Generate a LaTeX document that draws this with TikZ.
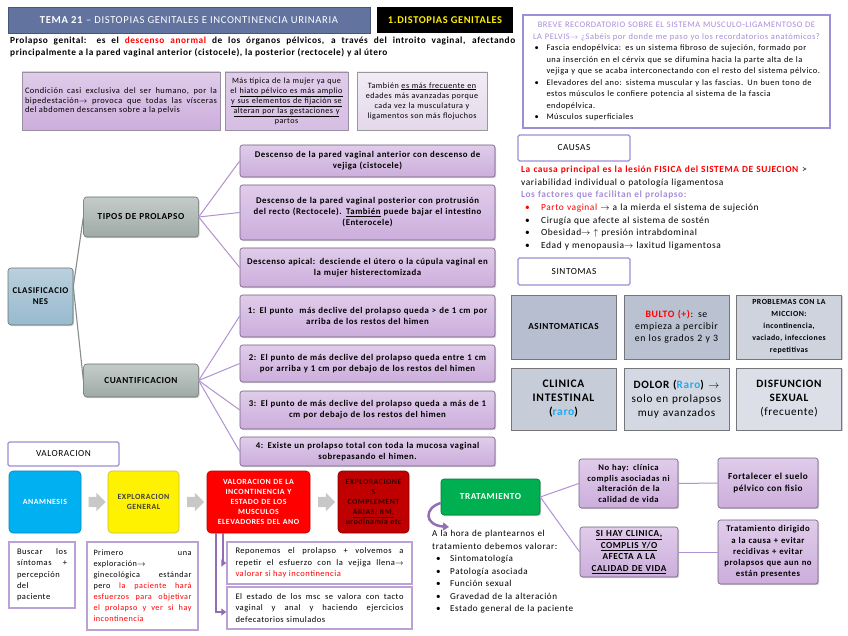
\documentclass[tikz,border=0pt]{standalone}
\usepackage{fontspec}
\setmainfont{Carlito}[LetterSpace=6]
\usetikzlibrary{shadows,shapes.arrows,arrows.meta,calc}
\definecolor{titleblue}{RGB}{98,115,160}
\definecolor{titleedge}{RGB}{70,85,120}
\definecolor{lavedge}{RGB}{158,142,212}
\definecolor{lavtext}{RGB}{168,140,218}
\definecolor{pbtop}{RGB}{224,204,234}
\definecolor{pbbot}{RGB}{204,174,220}
\definecolor{pbedge}{RGB}{112,96,124}
\definecolor{plight}{RGB}{242,236,245}
\definecolor{plightb}{RGB}{228,216,234}
\definecolor{conpurple}{RGB}{178,145,212}
\definecolor{clastop}{RGB}{186,208,222}
\definecolor{clasbot}{RGB}{152,186,206}
\definecolor{gtop}{RGB}{196,204,201}
\definecolor{gbot}{RGB}{158,170,166}
\definecolor{gedge}{RGB}{105,112,110}
\definecolor{symedge}{RGB}{118,118,122}
\definecolor{rarocol}{RGB}{30,172,240}
\definecolor{anacyan}{RGB}{0,176,240}
\definecolor{tratgreen}{RGB}{0,176,80}
\definecolor{darkred}{RGB}{192,0,0}
\definecolor{arrowpurple}{RGB}{146,110,182}
\definecolor{detedge}{RGB}{186,162,214}
\definecolor{greyarrow}{RGB}{200,200,200}
\definecolor{sa}{RGB}{182,190,208}
\definecolor{sb}{RGB}{186,194,210}
\definecolor{sc}{RGB}{206,211,222}
\definecolor{sd}{RGB}{198,204,216}
\definecolor{se}{RGB}{212,216,226}
\definecolor{sf}{RGB}{220,223,231}
\newcommand\mybul[1]{\par\noindent\hangindent=19pt\hangafter=1\makebox[19pt][l]{\hspace{7pt}\textbullet}#1}
\tikzset{
 shad/.style={drop shadow={shadow xshift=1.2pt,shadow yshift=-1.2pt,opacity=0.35}},
 purpbox/.style={shad, draw=pbedge, line width=0.6pt, rounded corners=2.5pt, top color=pbtop, bottom color=pbbot, align=center, inner sep=1.5pt, font=\bfseries\fontsize{8.8}{11}\selectfont},
 greybox/.style={shad, draw=gedge, line width=0.6pt, rounded corners=3pt, top color=gtop, bottom color=gbot, align=center, font=\bfseries\fontsize{9.2}{11}\selectfont},
 labelbox/.style={draw=lavedge, line width=1.3pt, rounded corners=1.5pt, fill=white, align=center, font=\fontsize{9.3}{11}\selectfont},
 symbox/.style={shad, draw=symedge, line width=0.7pt, align=center, inner sep=2pt, minimum width=105pt, text width=100pt},
 stepbox/.style={rounded corners=4pt, line width=0.6pt, align=center, inner sep=1pt, minimum height=62pt, font=\bfseries\fontsize{7.9}{10}\selectfont},
 detbox/.style={draw=detedge, line width=1.4pt, fill=white, align=justify, inner sep=0pt, font=\fontsize{8.5}{11.3}\selectfont},
 pline/.style={draw=conpurple, line width=1pt},
 gline/.style={draw=gedge!80, line width=1.1pt},
 grayarr/.style={single arrow, fill=greyarrow, draw=none, minimum height=17pt, minimum width=18pt, single arrow head extend=4pt, inner sep=5pt},
 elbow/.style={draw=arrowpurple, line width=2.2pt, -{Triangle[length=5pt,width=7pt]}},
}
\begin{document}
\begin{tikzpicture}[x=1pt,y=-1pt]
\useasboundingbox (0,0) rectangle (848,636);
\fill[white] (0,0) rectangle (848,636);

% header
\node[draw=titleedge, line width=0.6pt, fill=titleblue, minimum width=362pt, minimum height=26pt, text=white, font=\fontsize{10.6}{12}\selectfont] (title) at (189,20) {\textbf{TEMA 21} – DISTOPIAS GENITALES E INCONTINENCIA URINARIA};
\node[fill=black, minimum width=136pt, minimum height=26pt, text=yellow, font=\bfseries\fontsize{10.4}{12}\selectfont] (section) at (445,20) {1.DISTOPIAS GENITALES};
\node[anchor=north west, text width=505pt, align=justify, inner sep=0pt, font=\bfseries\fontsize{9.3}{11.3}\selectfont] (intro) at (10,37) {Prolapso genital: es el \textcolor{red}{descenso anormal} de los órganos pélvicos, a través del introito vaginal, afectando\linebreak principalmente a la pared vaginal anterior (cistocele), la posterior (rectocele) y al útero};

% three boxes
\node[shad, draw=pbedge!70, line width=0.5pt, top color=pbtop, bottom color=pbbot, minimum width=198pt, minimum height=58pt, text width=192pt, inner sep=0pt, align=justify, font=\fontsize{8.4}{9.4}\selectfont] (condicion) at (121,101) {Condición casi exclusiva del ser humano, por la\linebreak bipedestación$\rightarrow$ provoca que todas las vísceras\linebreak del abdomen descansen sobre a la pelvis};
\node[shad, draw=pbedge!70, line width=0.5pt, top color=pbtop, bottom color=pbbot!80!white, minimum width=123pt, minimum height=58pt, text width=120pt, inner sep=0pt, align=center, font=\fontsize{8.1}{10}\selectfont] (mujer) at (286.5,101) {Más típica de la mujer ya que\\ el \underline{hiato pélvico es más amplio}\\ \underline{y sus elementos de fijación se}\\ \underline{alteran por las gestaciones y}\\ partos};
\node[shad, draw=gray!80, line width=0.5pt, top color=plight, bottom color=plightb, minimum width=130pt, minimum height=58pt, text width=126pt, inner sep=0pt, align=center, font=\fontsize{8.1}{10}\selectfont] (edad) at (422,101) {También \underline{es más frecuente en}\\ edades más avanzadas porque\\ cada vez la musculatura y\\ ligamentos son más flojuchos};

% recordatorio
\node[draw=lavedge, line width=1.5pt, fill=white, minimum width=307pt, minimum height=113pt, text width=298pt, inner sep=0pt, font=\fontsize{8.4}{11.5}\selectfont] (recordatorio) at (676.5,71.5) {{\centering\color{lavtext}\fontsize{8.5}{11.5}\selectfont BREVE RECORDATORIO SOBRE EL SISTEMA MUSCULO-LIGAMENTOSO DE\\ LA PELVIS$\rightarrow$ ¿Sabéis por donde me paso yo los recordatorios anatómicos?\par}%
\mybul{Fascia endopélvica: es un sistema fibroso de sujeción, formado por\linebreak una inserción en el cérvix que se difumina hacia la parte alta de la\linebreak vejiga y que se acaba interconectando con el resto del sistema pélvico.}
\mybul{Elevadores del ano: sistema muscular y las fascias. Un buen tono de\linebreak estos músculos le confiere potencia al sistema de la fascia\linebreak endopélvica.}
\mybul{Músculos superficiales}\par};

% causas
\node[labelbox, minimum width=112pt, minimum height=26pt] (causas) at (574,148) {CAUSAS};
\node[anchor=north west, text width=325pt, align=left, inner sep=0pt, font=\fontsize{9.4}{12.6}\selectfont] (causastext) at (521,166) {\textcolor{red}{\textbf{La causa principal es la lesión FISICA del SISTEMA DE SUJECION}} >\\
variabilidad individual o patología ligamentosa\\
\textcolor{lavtext}{\textbf{Los factores que facilitan el prolapso:}}\\
\makebox[20pt][l]{\hspace{4pt}\textcolor{red}{\textbullet}}\textcolor{red}{Parto vaginal} $\rightarrow$ a la mierda el sistema de sujeción\\
\makebox[20pt][l]{\hspace{4pt}\textbullet}Cirugía que afecte al sistema de sostén\\
\makebox[20pt][l]{\hspace{4pt}\textbullet}Obesidad$\rightarrow$ $\uparrow$ presión intrabdominal\\
\makebox[20pt][l]{\hspace{4pt}\textbullet}Edad y menopausia$\rightarrow$ laxitud ligamentosa};

% sintomas
\node[labelbox, minimum width=112pt, minimum height=27pt] (sintomas) at (574,271.5) {SINTOMAS};
\node[symbox, fill=sa, minimum height=64pt, font=\bfseries\fontsize{9.2}{11}\selectfont] (asint) at (563.5,327) {ASINTOMATICAS};
\node[symbox, fill=sb, minimum height=64pt, font=\fontsize{9.8}{12}\selectfont] (bulto) at (676.5,327) {\textcolor{red}{\textbf{BULTO (+)}}: se\\ empieza a percibir\\ en los grados 2 y 3};
\node[symbox, fill=sc, minimum height=64pt, font=\bfseries\fontsize{7.8}{12}\selectfont] (miccion) at (789,327) {PROBLEMAS CON LA\\ MICCION:\\ incontinencia,\\ vaciado, infecciones\\ repetitivas};
\node[symbox, fill=sd, minimum height=62pt, font=\bfseries\fontsize{11.5}{14}\selectfont] (intestinal) at (563.5,399) {CLINICA\\ INTESTINAL\\ (\textcolor{rarocol}{raro})};
\node[symbox, fill=se, minimum height=62pt, font=\fontsize{11.2}{14}\selectfont] (dolor) at (676.5,399) {\textbf{DOLOR (\textcolor{rarocol}{Raro})} $\rightarrow$\\ solo en prolapsos\\ muy avanzados};
\node[symbox, fill=sf, minimum height=62pt, font=\fontsize{11.2}{14}\selectfont] (sexual) at (789,399) {\bfseries DISFUNCION\\ SEXUAL\\ \mdseries (frecuente)};

% clasificaciones
\node[shad, draw=gedge, line width=0.6pt, rounded corners=3pt, top color=clastop, bottom color=clasbot, minimum width=65pt, minimum height=57pt, text width=62pt, inner sep=0pt, align=center, font=\bfseries\fontsize{8.9}{11}\selectfont] (clas) at (40.5,296.5) {CLASIFICACIO\\NES};
\node[greybox, minimum width=112pt, minimum height=40pt, text width=108pt] (tipos) at (141,217) {TIPOS DE PROLAPSO};
\node[greybox, minimum width=112pt, minimum height=33pt, text width=108pt] (cuant) at (141,380.5) {CUANTIFICACION};

\node[purpbox, minimum width=255pt, minimum height=32pt, text width=252pt] (t1) at (367.5,161) {Descenso de la pared vaginal anterior con descenso de\\ vejiga (cistocele)};
\node[purpbox, minimum width=255pt, minimum height=55pt, text width=252pt] (t2) at (367.5,212.5) {Descenso de la pared vaginal posterior con protrusión\\ del recto (Rectocele). \underline{También} puede bajar el intestino\\ (Enterocele)};
\node[purpbox, minimum width=255pt, minimum height=39pt, text width=252pt] (t3) at (367.5,267.5) {Descenso apical: desciende el útero o la cúpula vaginal en\\ la mujer histerectomizada};
\node[purpbox, minimum width=255pt, minimum height=42pt, text width=252pt] (c1) at (367.5,316) {1: El punto \ más declive del prolapso queda > de 1 cm por\\ arriba de los restos del himen};
\node[purpbox, minimum width=255pt, minimum height=37pt, text width=252pt] (c2) at (367.5,363.5) {2: El punto de más declive del prolapso queda entre 1 cm\\ por arriba y 1 cm por debajo de los restos del himen};
\node[purpbox, minimum width=255pt, minimum height=38pt, text width=252pt] (c3) at (367.5,410) {3: El punto de más declive del prolapso queda a más de 1\\ cm por debajo de los restos del himen};
\node[purpbox, minimum width=255pt, minimum height=29pt, text width=252pt] (c4) at (367.5,451.5) {4: Existe un prolapso total con toda la mucosa vaginal\\ sobrepasando el himen.};

\draw[gline] ([yshift=10pt]clas.east) -- (tipos.west);
\draw[gline] ([yshift=10pt]clas.east) -- (cuant.west);
\foreach \n in {t1,t2,t3} \draw[pline] (tipos.east) -- (\n.west);
\foreach \n in {c1,c2,c3,c4} \draw[pline] (cuant.east) -- (\n.west);

% valoracion
\node[labelbox, minimum width=111pt, minimum height=24pt] (valoracion) at (63.5,454) {VALORACION};
\node[stepbox, draw=anacyan!80!black, fill=anacyan, text=white, minimum width=72pt, text width=70pt] (anam) at (45,502) {ANAMNESIS};
\node[stepbox, draw=yellow!75!black, fill=yellow, text=black!75, minimum width=71pt, text width=69pt] (expl) at (143.5,502) {EXPLORACION\\ GENERAL};
\node[stepbox, draw=darkred, fill=red, text=white, minimum width=103pt, text width=101pt] (valinc) at (258.5,502) {VALORACION DE LA\\ INCONTINENCIA Y\\ ESTADO DE LOS\\ MUSCULOS\\ ELEVADORES DEL ANO};
\node[stepbox, draw=darkred!70!black, fill=darkred, text={rgb,255:red,55;green,0;blue,0}, minimum width=71pt, text width=69pt] (explcomp) at (373.5,502) {EXPLORACIONE\\ S\\ COMPLEMENT\\ \underline{ARIAS: RM,}\\ urodinamia etc};
\node[grayarr] (arr1) at ($(anam.east)!0.5!(expl.west)$) {};
\node[grayarr] (arr2) at ($(expl.east)!0.5!(valinc.west)$) {};
\node[grayarr] (arr3) at ($(valinc.east)!0.5!(explcomp.west)$) {};

\node[detbox, minimum width=66pt, minimum height=66pt, text width=50pt] (b1) at (42,575) {Buscar los\linebreak síntomas +\linebreak percepción\linebreak del\linebreak paciente};
\node[detbox, minimum width=111pt, minimum height=88pt, text width=98pt, font=\fontsize{8.2}{11}\selectfont] (b2) at (142.5,586) {Primero una\linebreak exploración$\rightarrow$\linebreak ginecológica estándar\linebreak pero \textcolor{red}{la paciente hará\linebreak esfuerzos para objetivar\linebreak el prolapso y ver si hay\linebreak incontinencia}};
\node[detbox, minimum width=185pt, minimum height=42pt, text width=168pt] (b3) at (319.5,563) {Reponemos el prolapso + volvemos a\linebreak repetir el esfuerzo con la vejiga llena$\rightarrow$\linebreak \textcolor{red}{valorar si hay incontinencia}};
\node[detbox, minimum width=185pt, minimum height=42pt, text width=168pt] (b4) at (319.5,608) {El estado de los msc se valora con tacto\linebreak vaginal y anal y haciendo ejercicios\linebreak defecatorios simulados};
\draw[elbow] ([xshift=16pt]valinc.south west) |- (b3.west);
\draw[elbow] ([xshift=9pt]valinc.south west) |- ([yshift=-4pt]b4.west);

% tratamiento
\node[shad, draw=tratgreen!70!black, line width=0.6pt, fill=tratgreen, rounded corners=3pt, minimum width=99pt, minimum height=36pt, text=white, font=\bfseries\fontsize{9.2}{11}\selectfont] (trat) at (490.5,497) {TRATAMIENTO};
\coordinate (curveend) at (449,527);
\draw[draw=arrowpurple, line width=2.5pt, -{Triangle[length=6pt,width=8pt]}] ([yshift=-6pt]trat.west) .. controls (424,508) and (424,525) .. (curveend);
\node[anchor=north west, text width=160pt, align=left, inner sep=0pt, font=\fontsize{9.1}{12.5}\selectfont] (trattext) at (432,530) {A la hora de plantearnos el\\ tratamiento debemos valorar:\\
\makebox[18pt][l]{\hspace{4pt}\textbullet}Sintomatología\\
\makebox[18pt][l]{\hspace{4pt}\textbullet}Patología asociada\\
\makebox[18pt][l]{\hspace{4pt}\textbullet}Función sexual\\
\makebox[18pt][l]{\hspace{4pt}\textbullet}Gravedad de la alteración\\
\makebox[18pt][l]{\hspace{4pt}\textbullet}Estado general de la paciente};

\node[purpbox, minimum width=99pt, minimum height=49pt, text width=96pt, font=\bfseries\fontsize{8.6}{10.8}\selectfont] (nohay) at (628.5,483.5) {No hay: clínica\\ complis asociadas ni\\ alteración de la\\ calidad de vida};
\node[purpbox, minimum width=98pt, minimum height=50pt, text width=95pt, font=\bfseries\fontsize{9.2}{11.5}\selectfont] (sihay) at (629,552) {\underline{SI HAY CLINICA,}\\ \underline{COMPLIS Y/O}\\ AFECTA A LA\\ \underline{CALIDAD DE VIDA}};
\node[purpbox, minimum width=100pt, minimum height=50pt, text width=97pt, font=\bfseries\fontsize{9.2}{11.5}\selectfont] (fort) at (768,483) {Fortalecer el suelo\\ pélvico con fisio};
\node[purpbox, minimum width=100pt, minimum height=64pt, text width=97pt, font=\bfseries\fontsize{8.7}{11.3}\selectfont] (tratdir) at (768,552) {Tratamiento dirigido\\ a la causa + evitar\\ recidivas + evitar\\ prolapsos que aun no\\ están presentes};
\draw[pline] (trat.east) -- (nohay.west);
\draw[pline] (trat.east) -- (sihay.west);
\draw[pline] (nohay.east) -- (fort.west);
\draw[pline] (sihay.east) -- (tratdir.west);
\end{tikzpicture}
\end{document}
